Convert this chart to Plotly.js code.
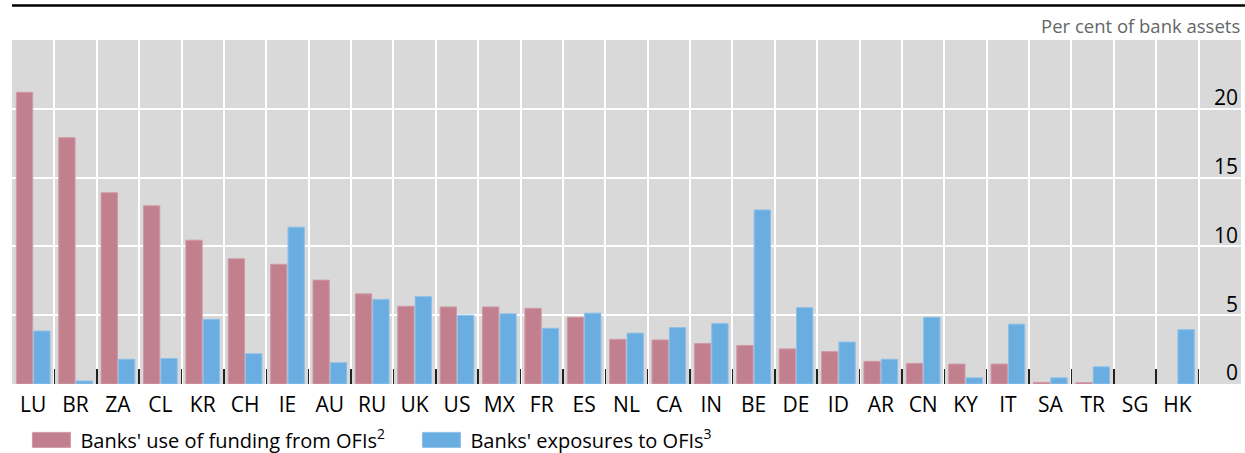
<!DOCTYPE html>
<html>
<head>
<meta charset="utf-8">
<script src="https://cdn.plot.ly/plotly-3.0.1.min.js"></script>
<style>
  html, body { margin: 0; padding: 0; background: #fff; }
  #chart { width: 1245px; height: 453px; }
</style>
</head>
<body>
<div id="chart"></div>
<script>
// Countries (x categories), plus one empty slot at the right where the y labels sit
const countries = ["LU","BR","ZA","CL","KR","CH","IE","AU","RU","UK","US","MX","FR","ES","NL","CA","IN","BE","DE","ID","AR","CN","KY","IT","SA","TR","SG","HK"];
const emptySlot = [" "];

// Banks' use of funding from OFIs (per cent of bank assets); null = no bar shown
const fundingFromOFIs = [21.2, 17.9, 13.9, 12.95, 10.45, 9.1, 8.7, 7.55, 6.55, 5.65, 5.6, 5.6, 5.5, 4.85, 3.25, 3.2, 2.95, 2.8, 2.55, 2.35, 1.65, 1.5, 1.45, 1.45, 0.12, 0.1, null, null];

// Banks' exposures to OFIs (per cent of bank assets)
const exposuresToOFIs = [3.85, 0.22, 1.8, 1.85, 4.7, 2.2, 11.4, 1.55, 6.15, 6.35, 5.0, 5.1, 4.05, 5.15, 3.7, 4.1, 4.4, 12.65, 5.55, 3.05, 1.8, 4.85, 0.45, 4.35, 0.45, 1.25, null, 3.95];

const yTicks = [0, 5, 10, 15, 20];

const pink = "#C2808F";
const blue = "#6AADE1";
const fontFamily = "'Open Sans', 'Noto Sans', sans-serif";

const traces = [
  {
    type: "bar",
    name: "Banks' use of funding from OFIs<sup>2</sup>",
    x: countries,
    y: fundingFromOFIs,
    marker: { color: pink, line: { color: "#CF9AA6", width: 1 } },
    hoverinfo: "x+y"
  },
  {
    type: "bar",
    name: "Banks' exposures to OFIs<sup>3</sup>",
    x: countries,
    y: exposuresToOFIs,
    marker: { color: blue, line: { color: "#8EC0E8", width: 1 } },
    hoverinfo: "x+y"
  }
];

const layout = {
  width: 1245,
  height: 453,
  margin: { l: 12, r: 4, t: 40, b: 69 },
  paper_bgcolor: "#ffffff",
  plot_bgcolor: "#D9D9D9",
  barmode: "group",
  bargap: 0.18,
  bargroupgap: 0.06,
  font: { family: fontFamily, color: "#000000", size: 20 },
  showlegend: true,
  legend: {
    orientation: "h",
    xref: "container",
    yref: "container",
    x: 0.018,
    xanchor: "left",
    y: 0.072,
    yanchor: "top",
    font: { family: fontFamily, size: 20, color: "#000000" },
    bgcolor: "rgba(0,0,0,0)",
    traceorder: "normal",
    itemwidth: 48,
    entrywidth: 327,
    entrywidthmode: "pixels",
    tracegroupgap: 0
  },
  xaxis: {
    type: "category",
    categoryorder: "array",
    categoryarray: countries.concat(emptySlot),
    range: [-0.5, countries.length + emptySlot.length - 0.5],
    tickson: "boundaries",
    ticks: "inside",
    ticklen: 15,
    tickwidth: 1.5,
    tickcolor: "#222222",
    ticklabelstandoff: 6,
    showgrid: true,
    gridcolor: "#ffffff",
    gridwidth: 2,
    showline: false,
    zeroline: false,
    tickfont: { family: fontFamily, size: 21, color: "#000000" },
    fixedrange: true
  },
  yaxis: {
    range: [0, 25],
    tickvals: yTicks,
    ticktext: yTicks.map(String),
    side: "right",
    ticklabelposition: "inside",
    ticklabeloverflow: "allow",
    ticklabelshift: -11,
    ticks: "",
    showgrid: true,
    gridcolor: "#ffffff",
    gridwidth: 2,
    zeroline: false,
    showline: false,
    tickfont: { family: fontFamily, size: 21, color: "#000000" },
    fixedrange: true
  },
  shapes: [
    {
      type: "line",
      xref: "paper", yref: "paper",
      x0: 0, x1: 1.01, y0: 1.1, y1: 1.1,
      line: { color: "#000000", width: 2.5 }
    }
  ],
  annotations: [
    {
      text: "Per cent of bank assets",
      xref: "paper", yref: "paper",
      x: 1.001, y: 1.0,
      xanchor: "right", yanchor: "bottom",
      showarrow: false,
      font: { family: fontFamily, size: 18.5, color: "#666666" }
    }
  ]
};

Plotly.newPlot("chart", traces, layout, { displayModeBar: false, staticPlot: true }).then(function (gd) {
  // widen the legend swatches to the wide rectangles of the reference
  gd.querySelectorAll(".legend .legendpoints path").forEach(function (p) {
    p.setAttribute("d", "M19,7.5H-19V-7.5H19Z");
  });
});
</script>
</body>
</html>
